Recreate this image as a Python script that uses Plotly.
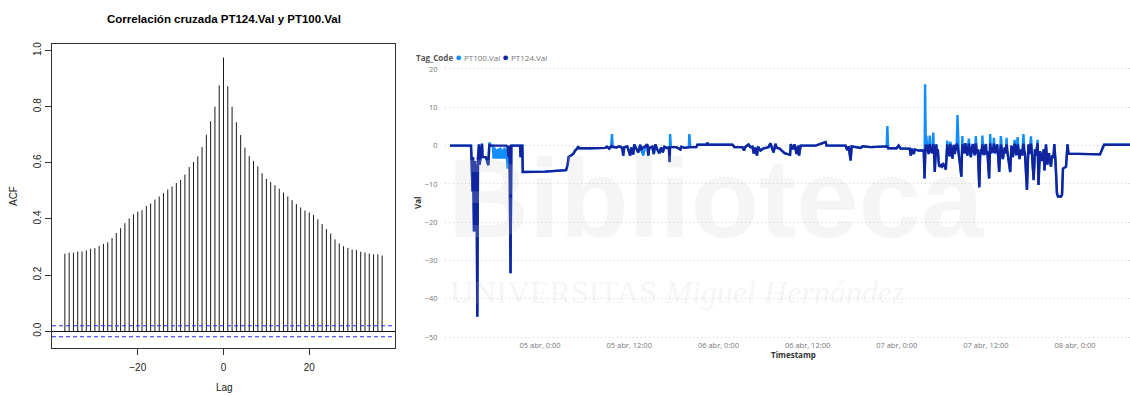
import pandas as pd
import plotly.graph_objects as go

# ---------------- Correlación cruzada (ccf) ----------------
lags = list(range(-37, 38))
acf = [
    0.276, 0.280, 0.280, 0.284, 0.284, 0.288, 0.294, 0.296, 0.304, 0.311,
    0.317, 0.332, 0.350, 0.367, 0.385, 0.402, 0.417, 0.426, 0.431, 0.446,
    0.455, 0.469, 0.480, 0.492, 0.505, 0.516, 0.528, 0.539, 0.558, 0.585,
    0.603, 0.623, 0.656, 0.700, 0.748, 0.800, 0.876, 0.975, 0.873, 0.800,
    0.745, 0.699, 0.654, 0.624, 0.607, 0.588, 0.563, 0.543, 0.531, 0.520,
    0.508, 0.494, 0.480, 0.467, 0.453, 0.441, 0.430, 0.423, 0.414, 0.399,
    0.382, 0.364, 0.348, 0.327, 0.313, 0.303, 0.297, 0.291, 0.289, 0.283,
    0.281, 0.277, 0.274, 0.274, 0.270,
]
ic = 0.0195  # banda de confianza al 95 %
lag_ticks = [-20, 0, 20]
acf_ticks = [0.0, 0.2, 0.4, 0.6, 0.8, 1.0]
acf_ticktext = ["0.0", "0.2", "0.4", "0.6", "0.8", "1.0"]

# ---------------- Serie temporal de presiones ----------------
inicio = pd.Timestamp("2023-04-04 00:00")

# Tramo 1: horas desde el 04 abr 0:00 hasta el 07 abr de madrugada
horas_1 = [
    11.87, 14.70, 14.77, 14.90, 14.97, 15.10, 15.24, 15.34, 15.44, 15.55,
    15.64, 15.78, 15.87, 15.98, 16.18, 16.25, 16.72, 17.03, 17.17, 17.33,
    17.66, 17.73, 17.87, 18.00, 18.13, 18.27, 18.40, 18.54, 18.67, 18.81,
    18.94, 19.08, 19.21, 19.35, 19.48, 19.62, 19.76, 19.89, 20.02, 20.13,
    21.30, 21.37, 21.47, 21.61, 21.67, 24.67, 27.50, 27.71, 27.84, 28.18,
    28.45, 28.72, 28.99, 29.12, 29.26, 30.74, 32.09, 32.76, 33.03, 33.30,
    33.57, 33.67, 33.77, 34.25, 34.65, 35.06, 35.19, 35.33, 35.73, 36.13,
    36.27, 36.54, 36.67, 36.94, 37.21, 37.48, 37.62, 37.89, 38.16, 38.43,
    38.56, 38.70, 39.10, 39.30, 39.51, 39.78, 40.04, 40.31, 40.52, 40.72,
    40.99, 41.33, 41.43, 41.50, 41.60, 42.34, 42.88, 43.01, 43.42, 44.02,
    44.09, 44.22, 45.03, 45.17, 46.38, 46.52, 46.65, 49.89, 50.16, 51.24,
    51.44, 51.64, 52.05, 52.31, 52.58, 52.76, 52.92, 53.19, 53.33, 53.66,
    54.07, 54.47, 54.74, 55.01, 55.15, 55.42, 55.69, 55.82, 56.23, 56.90,
    57.64, 57.75, 57.98, 58.25, 58.52, 58.72, 58.86, 59.06, 61.08, 62.43,
    62.56, 65.12, 65.33, 65.53, 65.80, 65.93, 67.15, 67.42, 68.49, 69.84,
    70.65, 70.74, 70.85, 71.99, 72.26, 72.53, 73.75, 73.89, 74.02, 74.29,
]
pt124_1 = [
    0, 0, -3.3, -12, -3, -22.4, -4, -22.4, -5, -44.7,
    -3, 0.3, -5, -3, 0.5, -3, -3, -5.1, 0.3, 0,
    0, 0, 0, 0, 0, 0, 0, 0, 0, 0,
    0, 0, 0, 0, 0, -0.5, -3, 0, -33.3, 0,
    0, -3, 0, 0, -6.9, -6.8, -6.4, -5, -3, -2.6,
    -2.2, -1.3, -0.8, -0.2, -0.7, -0.7, -0.6, -0.6, -0.3, -0.8,
    -0.2, -0.4, -0.3, -0.5, -0.2, -0.6, -2.6, -0.4, -0.2, -2.6,
    -0.5, -2.3, 0.3, -0.8, -1.8, 0.2, -1.2, -0.4, -0.2, 0.3,
    -2.6, -0.6, -0.3, -2.2, 0.3, -1.0, -2.0, -0.5, -1.8, -0.3,
    -0.6, -0.5, -4.3, -0.4, -0.4, -0.4, -1.0, -0.3, -0.6, -0.4,
    -0.4, -0.4, -0.4, 0.2, 0.2, 0.7, 0.2, 0.2, -0.4, -0.4,
    -1.3, -0.3, 0.3, -0.4, -0.3, -2.1, -0.5, -2.6, -0.3, -1.3,
    -0.7, -0.6, -0.4, 0.6, -0.4, -1.8, 0.5, -0.5, -0.8, -2.0,
    -2.4, 0.4, -1.0, 0.3, -2.2, 0.0, -2.6, 0.0, 0.0, 0.9,
    0.0, 0.0, -1.2, -0.2, -3.9, -0.2, -0.6, -0.2, -0.4, -0.2,
    -0.2, -0.3, -0.7, -0.7, 0.0, -0.8, -0.8, -2.6, -0.8, -2.2,
]
pt100_1 = [
    0, 0, -3.3, -12, -3, -22.4, -4, -22.4, -5, -44.7,
    -3, 0.3, -5, -3, 0.5, -3, -3, -5.1, 0.8, 0,
    0, -3.4, -0.5, -3.4, -1, -3.4, -0.8, -3.4, -0.5, -3.4,
    -1, -3.4, -0.5, -3.4, -1, -6, -3, 0, -33.3, 0,
    0, -3, 0, 0, -6.9, -6.8, -6.4, -5, -3, -2.6,
    -2.2, -1.3, -0.8, -0.2, -0.7, -0.7, -0.6, -0.6, -0.3, -0.8,
    -0.2, 3.0, -0.3, -0.5, -0.2, -0.6, -2.6, -0.4, -0.2, -2.6,
    -0.5, -2.3, 0.3, -0.8, -1.8, 0.2, -1.2, -2.6, -0.2, 0.3,
    -2.6, -0.6, -0.3, -2.2, 0.3, -1.0, -2.0, -0.5, -1.8, -0.3,
    -0.6, -0.5, -4.3, 3.0, -0.4, -0.4, -1.0, -0.3, -0.6, -0.4,
    3.0, -0.4, -0.4, 0.2, 0.2, 0.7, 0.2, 0.2, -0.4, -0.4,
    -1.3, -0.3, 0.3, -0.4, -0.3, -2.1, -0.5, -2.6, -0.3, -1.3,
    -0.7, -0.6, -0.4, 0.6, -0.4, -1.8, 0.5, -0.5, -0.8, -2.0,
    -2.4, 0.4, -1.0, 0.3, -2.2, 0.0, -2.6, 0.0, 0.0, 0.9,
    0.0, 0.0, -1.2, -0.2, -3.9, -0.2, -0.6, -0.2, -0.4, -0.2,
    -0.2, 5.1, -0.7, -0.7, 0.0, -0.8, -0.8, -2.6, -0.8, -2.2,
]

# Tramo 2: periodo inestable del 07 abr y estabilización final
horas_2 = [
    74.43, 74.97, 75.64, 75.75, 75.82, 75.90, 75.98, 76.08, 76.18, 76.30,
    76.45, 76.55, 76.65, 76.78, 76.92, 77.02, 77.12, 77.22, 77.32, 77.43,
    77.53, 77.63, 77.73, 77.90, 78.07, 78.20, 78.34, 78.50, 78.61, 78.71,
    78.81, 78.91, 79.01, 79.11, 79.21, 79.36, 79.51, 79.60, 79.68, 79.80,
    79.95, 80.08, 80.18, 80.27, 80.36, 80.50, 80.70, 80.83, 80.93, 81.03,
    81.13, 81.24, 81.38, 81.51, 81.61, 81.71, 81.85, 81.98, 82.10, 82.25,
    82.38, 82.52, 82.65, 82.78, 82.92, 83.12, 83.22, 83.33, 83.43, 83.53,
    83.63, 83.73, 83.86, 84.00, 84.10, 84.20, 84.44, 84.58, 84.70, 84.81,
    84.95, 85.08, 85.22, 85.35, 85.52, 85.66, 85.79, 85.95, 86.02, 86.15,
    86.29, 86.42, 86.56, 86.68, 86.79, 86.88, 86.97, 87.28, 87.44, 87.54,
    87.64, 87.76, 87.87, 87.99, 88.11, 88.27, 88.40, 88.52, 88.62, 88.72,
    88.90, 89.06, 89.16, 89.26, 89.53, 89.73, 89.83, 89.93, 90.07, 90.20,
    90.43, 90.61, 90.72, 90.85, 90.97, 91.08, 91.28, 91.42, 91.55, 91.68,
    91.82, 91.89, 92.09, 92.19, 92.29, 92.39, 92.49, 92.62, 92.76, 92.86,
    92.97, 93.10, 93.21, 93.37, 93.57, 93.71, 94.11, 94.25, 94.38, 94.79,
    94.99, 95.12, 99.37, 99.64, 99.91, 103.55,
]
pt124_2 = [
    -1.0, -1.3, -1.3, -8.6, -1.0, 0.3, -1.5, 0.2, -1.0, -2.2,
    0.4, -1.8, -0.5, -2.0, 0.4, -1.0, -6.9, -1.5, 0.3, -2.4,
    -1.0, -4.0, -5.5, -5.2, -5.5, -4.6, -5.0, -5.6, -6.3, -2.0,
    0.3, -2.5, -1.2, -2.8, 0.4, -1.5, -3.4, -0.8, 0.2, -2.2,
    -1.0, 0.5, 0.0, -1.0, -2.0, -4.5, -8.1, 0.4, -1.8, -0.5,
    -2.0, 0.6, -1.2, -2.6, -0.6, 0.5, -1.5, -3.0, -0.8, 0.4,
    -1.6, -2.5, 0.6, -2.0, -1.0, -10.9, -3.0, -1.0, -2.2, 0.3,
    -1.0, -2.5, -0.8, 0.4, -2.4, -1.5, -8.6, 0.6, -2.0, -0.5,
    -1.8, 0.5, -2.0, -1.2, 0.3, -3.0, -6.9, -1.0, 0.3, -1.2,
    -3.5, -1.5, -0.5, -2.0, 0.3, -1.4, -3.0, -6.9, 0.0, -1.8,
    -3.0, -1.0, 0.5, -1.3, -2.5, 0.3, -1.5, -3.5, -2.0, -1.0,
    -2.6, 0.5, -1.2, -2.0, -11.6, 0.3, -2.2, -1.0, 0.5, -2.0,
    -9.0, -1.0, -2.6, -0.8, 0.6, -10.3, -1.5, -2.8, -4.0, -2.0,
    -1.0, -6.5, 0.3, -2.5, -5.0, -3.0, -2.0, -3.8, -5.5, -3.5,
    -2.5, -3.2, 0.4, -4.0, -12.5, -13.3, -13.3, -12.8, -6.0, -5.5,
    0.3, -2.1, -2.3, -1.0, 0.2, 0.2,
]
pt100_2 = [
    -1.0, -1.3, -1.3, -8.6, 16.0, 2.0, 2.6, 0.2, -1.0, -2.2,
    2.6, -1.8, -0.5, -2.0, 3.4, -1.0, -6.9, -1.5, 0.3, -2.4,
    -1.0, -4.0, -5.5, -5.2, -5.5, -4.6, -5.0, -5.6, -6.3, -2.0,
    1.3, -2.5, -1.2, -2.8, 1.0, -1.5, -3.4, -0.8, 0.2, -2.2,
    -1.0, 0.5, 8.0, -1.0, -2.0, -4.5, -8.1, 2.5, -1.8, -0.5,
    -2.0, 0.6, -1.2, -2.6, -0.6, 1.8, -1.5, -3.0, -0.8, 0.4,
    -1.6, -2.5, 2.5, -2.0, -1.0, -10.9, -3.0, -1.0, -2.2, 2.6,
    -1.0, -2.5, -0.8, 0.4, -2.4, -1.5, -8.6, 3.0, -2.0, -0.5,
    -1.8, 2.0, -2.0, -1.2, 0.3, -3.0, -6.9, -1.0, 2.5, -1.2,
    -3.5, -1.5, -0.5, -2.0, 2.0, -1.4, -3.0, -6.9, 0.0, -1.8,
    -3.0, -1.0, 1.5, -1.3, -2.5, 2.2, -1.5, -3.5, -2.0, -1.0,
    -2.6, 3.0, -1.2, -2.0, -11.6, 0.3, -2.2, -1.0, 2.4, -2.0,
    -9.0, -1.0, -2.6, -0.8, 1.5, -10.3, -1.5, -2.8, -4.0, -2.0,
    -1.0, -6.5, 0.3, -2.5, -5.0, -3.0, -2.0, -3.8, -5.5, -3.5,
    -2.5, -3.2, 0.4, -4.0, -12.5, -13.3, -13.3, -12.8, -6.0, -5.5,
    0.3, -2.1, -2.3, -1.0, 0.2, 0.2,
]

val_ticks = [-50, -40, -30, -20, -10, 0, 10, 20]
fecha_ticks = [
    "2023-04-05 00:00", "2023-04-05 12:00", "2023-04-06 00:00",
    "2023-04-06 12:00", "2023-04-07 00:00", "2023-04-07 12:00",
    "2023-04-08 00:00",
]
fecha_texto = [
    "05 abr, 0:00", "05 abr, 12:00", "06 abr, 0:00", "06 abr, 12:00",
    "07 abr, 0:00", "07 abr, 12:00", "08 abr, 0:00",
]

horas = horas_1 + horas_2
pt124 = pt124_1 + pt124_2
pt100 = pt100_1 + pt100_2
assert len(horas) == len(pt124) == len(pt100)

# ---------------- Geometría de la página ----------------
W, H = 1130, 396


def fx(p):
    return p / W


def fy(p):
    return 1 - p / H


tiempo = inicio + pd.to_timedelta(horas, unit="h")
t_ini = inicio + pd.Timedelta(hours=11.2)
t_fin = inicio + pd.Timedelta(hours=103.4)

R_FONT = "Liberation Sans, Arial, sans-serif"
PBI_FONT = "Segoe UI, Open Sans, sans-serif"

fig = go.Figure()

# Barras verticales del correlograma
bx, by = [], []
for l, v in zip(lags, acf):
    bx += [l, l, None]
    by += [0, v, None]
fig.add_trace(go.Scatter(
    x=bx, y=by, mode="lines", xaxis="x", yaxis="y",
    line=dict(color="#1a1a1a", width=1), hoverinfo="skip", showlegend=False,
))

# Series de presión
fig.add_trace(go.Scatter(
    x=tiempo, y=pt100, mode="lines", xaxis="x2", yaxis="y2", name="PT100.Val",
    line=dict(color="#118DFF", width=2.4), showlegend=False,
))
fig.add_trace(go.Scatter(
    x=tiempo, y=pt124, mode="lines", xaxis="x2", yaxis="y2", name="PT124.Val",
    line=dict(color="#12239E", width=2.4), showlegend=False,
))

# Bandas de confianza
shapes = []
for s in (ic, -ic):
    shapes.append(dict(
        type="line", xref="x domain", yref="y", x0=0, x1=1, y0=s, y1=s,
        line=dict(color="#2b2bff", width=1, dash="4px,3px"), layer="above",
    ))


def texto(t, x, y, size, family, color="#222", angle=0, xanchor="center"):
    return dict(text=t, x=fx(x), y=fy(y), xref="paper", yref="paper",
                xanchor=xanchor, yanchor="middle", textangle=angle,
                showarrow=False, font=dict(family=family, size=size,
                                           color=color))


wm = "rgba(205,205,205,0.2)"
annotations = [
    texto("<b>Correlación cruzada PT124.Val y PT100.Val</b>", 224, 16.5,
          11.5, R_FONT, "#000"),
    texto("ACF", 13, 196, 10, R_FONT, angle=-90),
    texto("Lag", 224, 390, 10, R_FONT),
    texto("<b>Tag_Code</b> "
          "<span style='color:#118DFF;font-size:11px'>●</span>"
          "<span style='color:#777'> PT100.Val </span>"
          "<span style='color:#12239E;font-size:11px'>●</span>"
          "<span style='color:#777'> PT124.Val</span>",
          414, 54, 8, PBI_FONT, "#555", xanchor="left"),
    texto("<b>Val</b>", 418, 203, 8, PBI_FONT, "#333", angle=-90),
    texto("<b>Timestamp</b>", 793, 357, 8, PBI_FONT, "#333"),
    # marca de agua de la biblioteca
    texto("<b>Biblioteca</b>", 446, 198, 112, R_FONT, wm, xanchor="left"),
    texto("UNIVERSITAS <i>Miguel Hernández</i>", 448, 293, 32,
          "Liberation Serif, serif", wm, xanchor="left"),
]

fig.update_layout(
    width=W, height=H, margin=dict(l=0, r=0, t=0, b=0),
    paper_bgcolor="white", plot_bgcolor="rgba(0,0,0,0)",
    showlegend=False, shapes=shapes, annotations=annotations,
    xaxis=dict(
        domain=[fx(52), fx(395)], range=[-40, 40], anchor="y",
        showline=True, mirror=True, linecolor="#333", linewidth=1,
        ticks="outside", ticklen=6, tickcolor="#333",
        tickvals=lag_ticks, showgrid=False, zeroline=False,
        ticklabelstandoff=4,
        tickfont=dict(family=R_FONT, size=10, color="#222"),
    ),
    yaxis=dict(
        domain=[fy(350), fy(42)], range=[-0.0586, 1.022], anchor="x",
        showline=True, mirror=True, linecolor="#333", linewidth=1,
        ticks="outside", ticklen=6, tickcolor="#333",
        tickvals=acf_ticks, ticktext=acf_ticktext, tickangle=-90,
        showgrid=False, zeroline=True, zerolinecolor="#111", zerolinewidth=1,
        tickfont=dict(family=R_FONT, size=10, color="#222"),
    ),
    xaxis2=dict(
        domain=[fx(445), 1.0], range=[t_ini, t_fin], anchor="y2", type="date",
        tickvals=fecha_ticks, ticktext=fecha_texto,
        showgrid=False, showline=False, zeroline=False, ticks="",
        tickfont=dict(family=PBI_FONT, size=7.5, color="#777"),
    ),
    yaxis2=dict(
        domain=[fy(341.2), fy(65.05)], range=[-50.5, 20.5], anchor="x2",
        tickvals=val_ticks, showgrid=True, gridcolor="#cfcfcf",
        griddash="1px,3px", gridwidth=1, zeroline=False, showline=False,
        ticks="outside", ticklen=5, tickcolor="rgba(0,0,0,0)",
        tickfont=dict(family=PBI_FONT, size=7.5, color="#777"),
    ),
)

fig.write_html("out.html")
